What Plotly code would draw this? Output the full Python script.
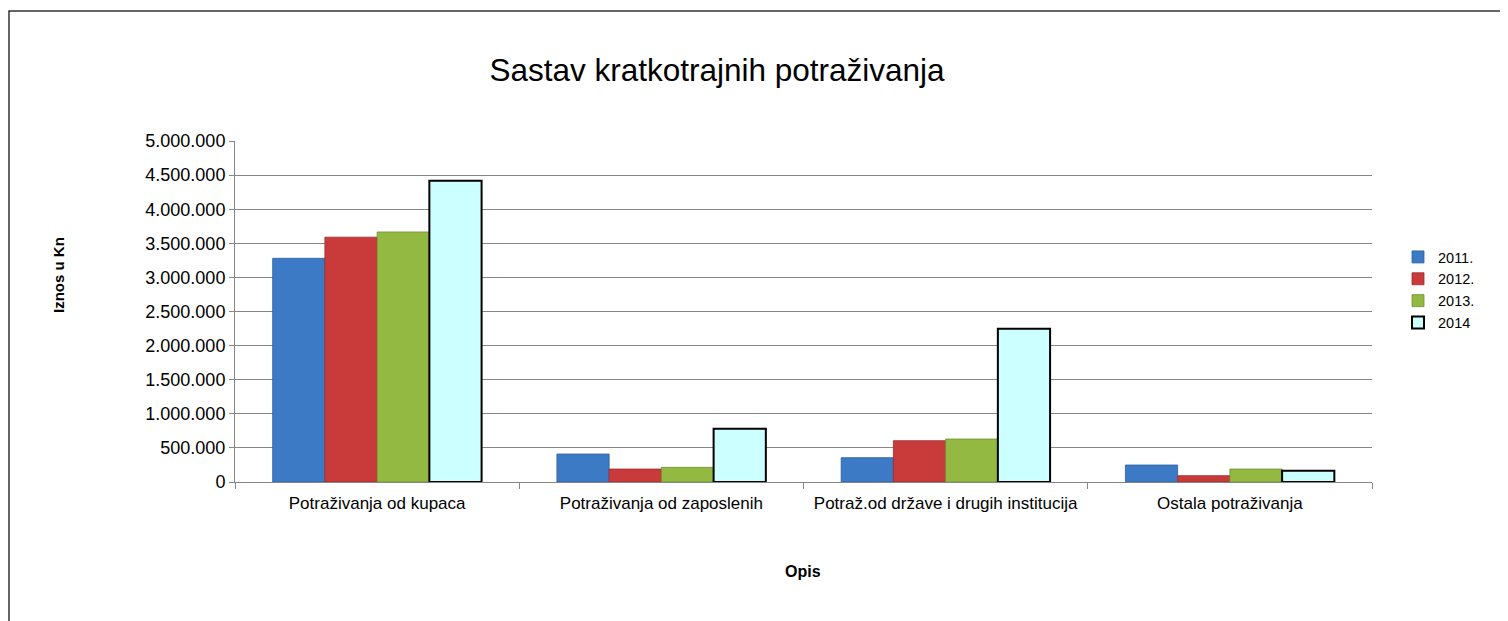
import plotly.graph_objects as go

categories = [
    "Potraživanja od kupaca",
    "Potraživanja od zaposlenih",
    "Potraž.od države i drugih institucija",
    "Ostala potraživanja",
]
years = ["2011.", "2012.", "2013.", "2014"]
v2011 = [3280000, 410000, 357000, 249000]
v2012 = [3590000, 190000, 606000, 93000]
v2013 = [3666000, 215000, 630000, 190000]
v2014 = [4418000, 782000, 2248000, 166000]
y_ticks = [0, 500000, 1000000, 1500000, 2000000, 2500000, 3000000, 3500000, 4000000, 4500000, 5000000]

series = [v2011, v2012, v2013, v2014]
fills = ["#3D7AC6", "#C93B3B", "#93B943", "#CCFFFF"]
edges = ["#2F5F9E", "#9E2C2C", "#6F8F2E", "#000000"]
edge_w = [0.8, 0.8, 0.8, 2]

FONT = "Liberation Sans, Arial, sans-serif"

# page has an 8px body margin, so work in page pixels and shift
OFF = 8
W, H = 1508 - OFF, 621 - OFF
L, R, T, B = 235 - OFF, 1372 - OFF, 141 - OFF, 482 - OFF
pw, ph = R - L, B - T


def px(x):
    return (x - OFF - L) / pw


def py(y):
    return (B - (y - OFF)) / ph


fig = go.Figure()
for name, vals, fc, ec, ew in zip(years, series, fills, edges, edge_w):
    fig.add_trace(go.Bar(
        name=name,
        x=categories,
        y=vals,
        marker=dict(color=fc, line=dict(color=ec, width=ew)),
    ))

fig.add_shape(
    type="rect", xref="paper", yref="paper",
    x0=px(9), x1=px(1540), y0=py(660), y1=py(11),
    line=dict(color="#333333", width=1.5), fillcolor="rgba(0,0,0,0)",
    layer="below",
)

fig.add_annotation(
    text="<b>Iznos u Kn</b>", textangle=-90, showarrow=False,
    xref="paper", yref="paper", x=px(58), y=py(275),
    xanchor="center", yanchor="middle",
    font=dict(family=FONT, size=15, color="#000000"),
)
fig.add_annotation(
    text="<b>Opis</b>", showarrow=False,
    xref="paper", yref="paper", x=px(803), y=py(571),
    xanchor="center", yanchor="middle",
    font=dict(family=FONT, size=16, color="#000000"),
)

fig.update_layout(
    width=W, height=H,
    margin=dict(l=L, r=W - R, t=T, b=H - B),
    paper_bgcolor="white", plot_bgcolor="white",
    separators=",.",
    barmode="group", bargap=0.265, bargroupgap=0,
    font=dict(family=FONT, size=15, color="#000000"),
    title=dict(
        text="Sastav kratkotrajnih potraživanja",
        font=dict(family=FONT, size=31.5, color="#000000"),
        x=(717 - OFF) / W, xanchor="center", y=1 - (70 - OFF) / H, yanchor="middle",
    ),
    showlegend=True,
    legend=dict(
        x=px(1398), y=py(290), xanchor="left", yanchor="middle",
        font=dict(family=FONT, size=14.5), tracegroupgap=0, itemwidth=30,
        bgcolor="rgba(0,0,0,0)",
    ),
    xaxis=dict(
        showgrid=False, showline=True, linecolor="#868686", linewidth=1,
        ticks="outside", tickson="boundaries", ticklen=6, tickcolor="#868686",
        ticklabelstandoff=6,
        tickfont=dict(family=FONT, size=17),
    ),
    yaxis=dict(
        range=[0, 5000000], tickvals=y_ticks, tickformat=",d",
        showgrid=True, gridcolor="#868686", gridwidth=1,
        showline=True, linecolor="#868686", linewidth=1,
        ticks="outside", ticklen=5, tickcolor="#868686",
        tickfont=dict(family=FONT, size=18),
        zeroline=False,
    ),
)

fig.write_html("out.html")
